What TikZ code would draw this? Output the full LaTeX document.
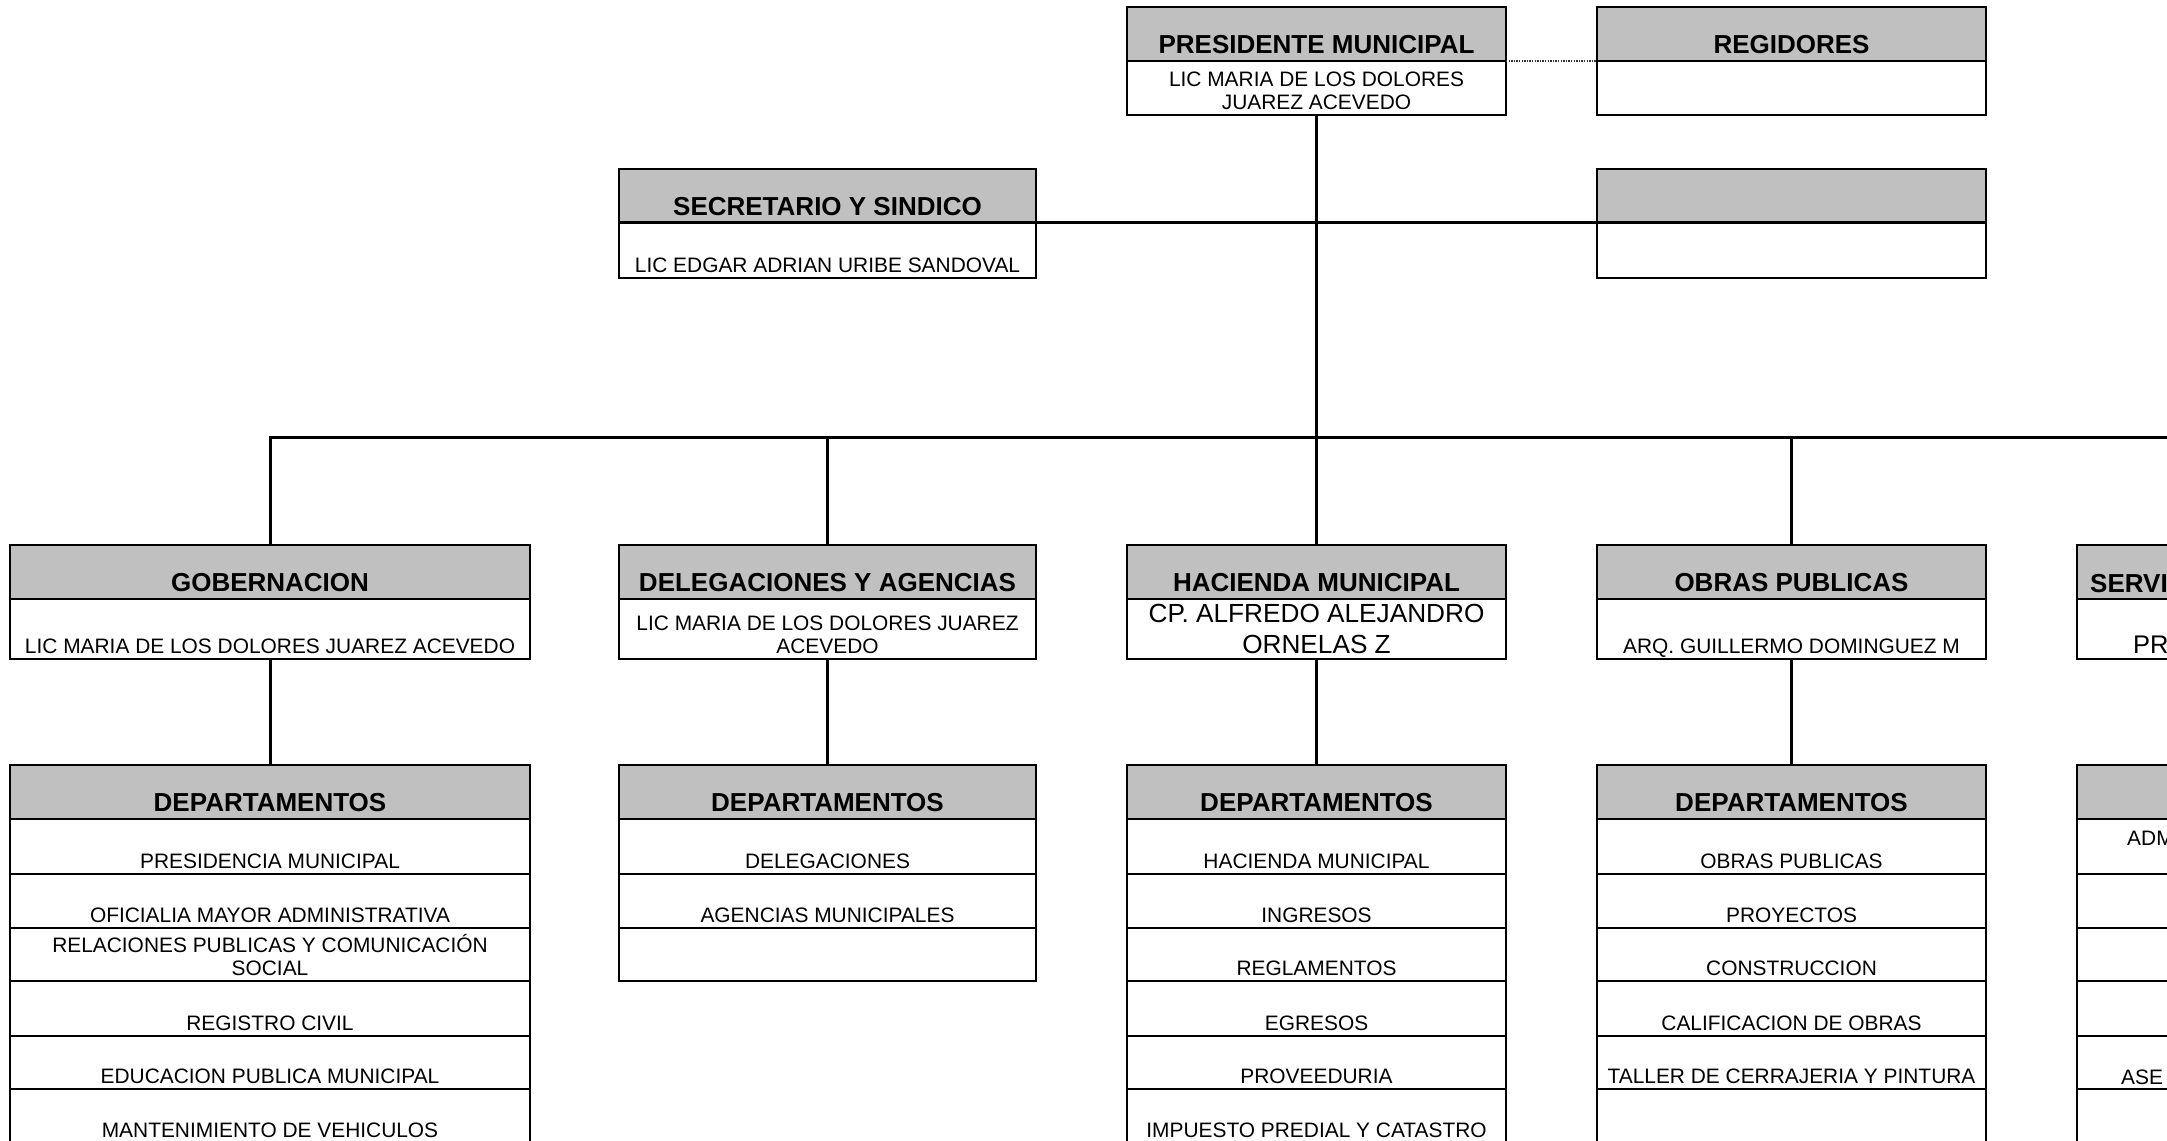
\documentclass[tikz,border=0pt]{standalone}
\usepackage{fontspec}
\setmainfont{Liberation Sans}
\definecolor{hdrgray}{HTML}{C0C0C0}
\tikzset{
  boxline/.style={draw=black, line width=2.7pt},
  hdrcell/.style={boxline, fill=hdrgray, anchor=north west, inner sep=0pt, outer sep=0pt},
  bodycell/.style={boxline, fill=white, anchor=north west, inner sep=0pt, outer sep=0pt},
  hdrtxt/.style={font=\fontsize{26}{31}\selectfont\bfseries, inner sep=0pt, text depth=0pt, anchor=south, align=center},
  bodytxt/.style={font=\fontsize{20.9}{23.8}\selectfont, inner sep=0pt, text depth=0pt, anchor=south, align=center},
  bigtxt/.style={font=\fontsize{26.2}{31}\selectfont, inner sep=0pt, text depth=0pt, anchor=south, align=center},
  cuttxt/.style={inner sep=0pt, anchor=base west},
  conn/.style={draw=black, line width=3pt},
  dotconn/.style={draw=black!80, line width=1.5pt, dash pattern=on 1.4pt off 1.2pt},
}
% header cell: name, x1, y1, x2, y2, text
\newcommand\hcell[6]{%
  \node[hdrcell, minimum width={#4-#2}, minimum height={#5-#3}] (#1) at (#2,#3) {};
  \node[hdrtxt] (#1-t) at ([yshift=7pt]#1.south) {#6};}
% body cell: name, x1, y1, x2, y2, text style, text
\newcommand\bcell[7]{%
  \node[bodycell, minimum width={#4-#2}, minimum height={#5-#3}] (#1) at (#2,#3) {};
  \node[#6] (#1-t) at ([yshift=5pt]#1.south) {#7};}
\begin{document}
\begin{tikzpicture}[x=1pt, y=-1pt]
\useasboundingbox (0,0) rectangle (2167,1140);
\clip (0,0) rectangle (2167,1140);
\fill[white] (0,0) rectangle (2167,1140);

% ---------- top level ----------
\hcell{presH}{1127}{7}{1506}{61}{PRESIDENTE MUNICIPAL}
\bcell{presB}{1127}{61}{1506}{115}{bodytxt}{LIC MARIA DE LOS DOLORES\\JUAREZ ACEVEDO}
\hcell{regH}{1597}{7}{1986}{61}{REGIDORES}
\bcell{regB}{1597}{61}{1986}{115}{bodytxt}{}

\hcell{secH}{619}{169}{1036}{222.5}{SECRETARIO Y SINDICO}
\bcell{secB}{619}{222.5}{1036}{278}{bodytxt}{LIC EDGAR ADRIAN URIBE SANDOVAL}
\hcell{empH}{1597}{169}{1986}{222.5}{}
\bcell{empB}{1597}{222.5}{1986}{278}{bodytxt}{}

% ---------- level 2 ----------
\hcell{gobH}{10}{545}{530}{599}{GOBERNACION}
\bcell{gobB}{10}{599}{530}{659}{bodytxt}{LIC MARIA DE LOS DOLORES JUAREZ ACEVEDO}
\hcell{delH}{619}{545}{1036}{599}{DELEGACIONES Y AGENCIAS}
\bcell{delB}{619}{599}{1036}{659}{bodytxt}{LIC MARIA DE LOS DOLORES JUAREZ\\ACEVEDO}
\hcell{hacH}{1127}{545}{1506}{599}{HACIENDA MUNICIPAL}
\bcell{hacB}{1127}{599}{1506}{659}{bigtxt}{CP. ALFREDO ALEJANDRO\\ORNELAS Z}
\hcell{obrH}{1597}{545}{1986}{599}{OBRAS PUBLICAS}
\bcell{obrB}{1597}{599}{1986}{659}{bodytxt}{ARQ. GUILLERMO DOMINGUEZ M}
\hcell{serH}{2077}{545}{2600}{599}{}
\bcell{serB}{2077}{599}{2600}{659}{bodytxt}{}
\node[cuttxt, font=\fontsize{26}{31}\selectfont\bfseries] (serHt) at (2090,592) {SERVI};
\node[cuttxt, font=\fontsize{25.5}{30}\selectfont] (serBt) at (2133,653) {PR};

% ---------- level 3 : Gobernacion ----------
\hcell{gd0}{10}{765}{530}{819}{DEPARTAMENTOS}
\bcell{gd1}{10}{819}{530}{874}{bodytxt}{PRESIDENCIA MUNICIPAL}
\bcell{gd2}{10}{874}{530}{928}{bodytxt}{OFICIALIA MAYOR ADMINISTRATIVA}
\bcell{gd3}{10}{928}{530}{981}{bodytxt}{RELACIONES PUBLICAS Y COMUNICACIÓN\\SOCIAL}
\bcell{gd4}{10}{981}{530}{1036}{bodytxt}{REGISTRO CIVIL}
\bcell{gd5}{10}{1036}{530}{1089}{bodytxt}{EDUCACION PUBLICA MUNICIPAL}
\bcell{gd6}{10}{1089}{530}{1143}{bodytxt}{MANTENIMIENTO DE VEHICULOS}

% ---------- level 3 : Delegaciones ----------
\hcell{dd0}{619}{765}{1036}{819}{DEPARTAMENTOS}
\bcell{dd1}{619}{819}{1036}{874}{bodytxt}{DELEGACIONES}
\bcell{dd2}{619}{874}{1036}{928}{bodytxt}{AGENCIAS MUNICIPALES}
\bcell{dd3}{619}{928}{1036}{981}{bodytxt}{}

% ---------- level 3 : Hacienda ----------
\hcell{hd0}{1127}{765}{1506}{819}{DEPARTAMENTOS}
\bcell{hd1}{1127}{819}{1506}{874}{bodytxt}{HACIENDA MUNICIPAL}
\bcell{hd2}{1127}{874}{1506}{928}{bodytxt}{INGRESOS}
\bcell{hd3}{1127}{928}{1506}{981}{bodytxt}{REGLAMENTOS}
\bcell{hd4}{1127}{981}{1506}{1036}{bodytxt}{EGRESOS}
\bcell{hd5}{1127}{1036}{1506}{1089}{bodytxt}{PROVEEDURIA}
\bcell{hd6}{1127}{1089}{1506}{1143}{bodytxt}{IMPUESTO PREDIAL Y CATASTRO}

% ---------- level 3 : Obras ----------
\hcell{od0}{1597}{765}{1986}{819}{DEPARTAMENTOS}
\bcell{od1}{1597}{819}{1986}{874}{bodytxt}{OBRAS PUBLICAS}
\bcell{od2}{1597}{874}{1986}{928}{bodytxt}{PROYECTOS}
\bcell{od3}{1597}{928}{1986}{981}{bodytxt}{CONSTRUCCION}
\bcell{od4}{1597}{981}{1986}{1036}{bodytxt}{CALIFICACION DE OBRAS}
\bcell{od5}{1597}{1036}{1986}{1089}{bodytxt}{TALLER DE CERRAJERIA Y PINTURA}
\bcell{od6}{1597}{1089}{1986}{1143}{bodytxt}{}

% ---------- level 3 : Servicios (cut off) ----------
\hcell{sd0}{2077}{765}{2600}{819}{}
\bcell{sd1}{2077}{819}{2600}{874}{bodytxt}{}
\bcell{sd2}{2077}{874}{2600}{928}{bodytxt}{}
\bcell{sd3}{2077}{928}{2600}{981}{bodytxt}{}
\bcell{sd4}{2077}{981}{2600}{1036}{bodytxt}{}
\bcell{sd5}{2077}{1036}{2600}{1089}{bodytxt}{}
\bcell{sd6}{2077}{1089}{2600}{1143}{bodytxt}{}
\node[cuttxt, font=\fontsize{20.9}{23.8}\selectfont] (sd1x) at (2127,845) {ADM};
\node[cuttxt, font=\fontsize{20.9}{23.8}\selectfont] (sd5x) at (2121,1084) {ASE};

% ---------- connectors ----------
\coordinate (busR) at (2200,437);
\draw[dotconn] (presH.south east) -- (regH.south west);
\draw[conn] (presB.south) -- (hacH.north);
\draw[conn] (secH.south east) -- (empH.south west);
\draw[conn] (gobH.north) |- (busR);
\draw[conn] (delH.north) -- (delH.north |- busR);
\draw[conn] (obrH.north) -- (obrH.north |- busR);
\draw[conn] (gobB.south) -- (gd0.north);
\draw[conn] (delB.south) -- (dd0.north);
\draw[conn] (hacB.south) -- (hd0.north);
\draw[conn] (obrB.south) -- (od0.north);
\end{tikzpicture}
\end{document}
